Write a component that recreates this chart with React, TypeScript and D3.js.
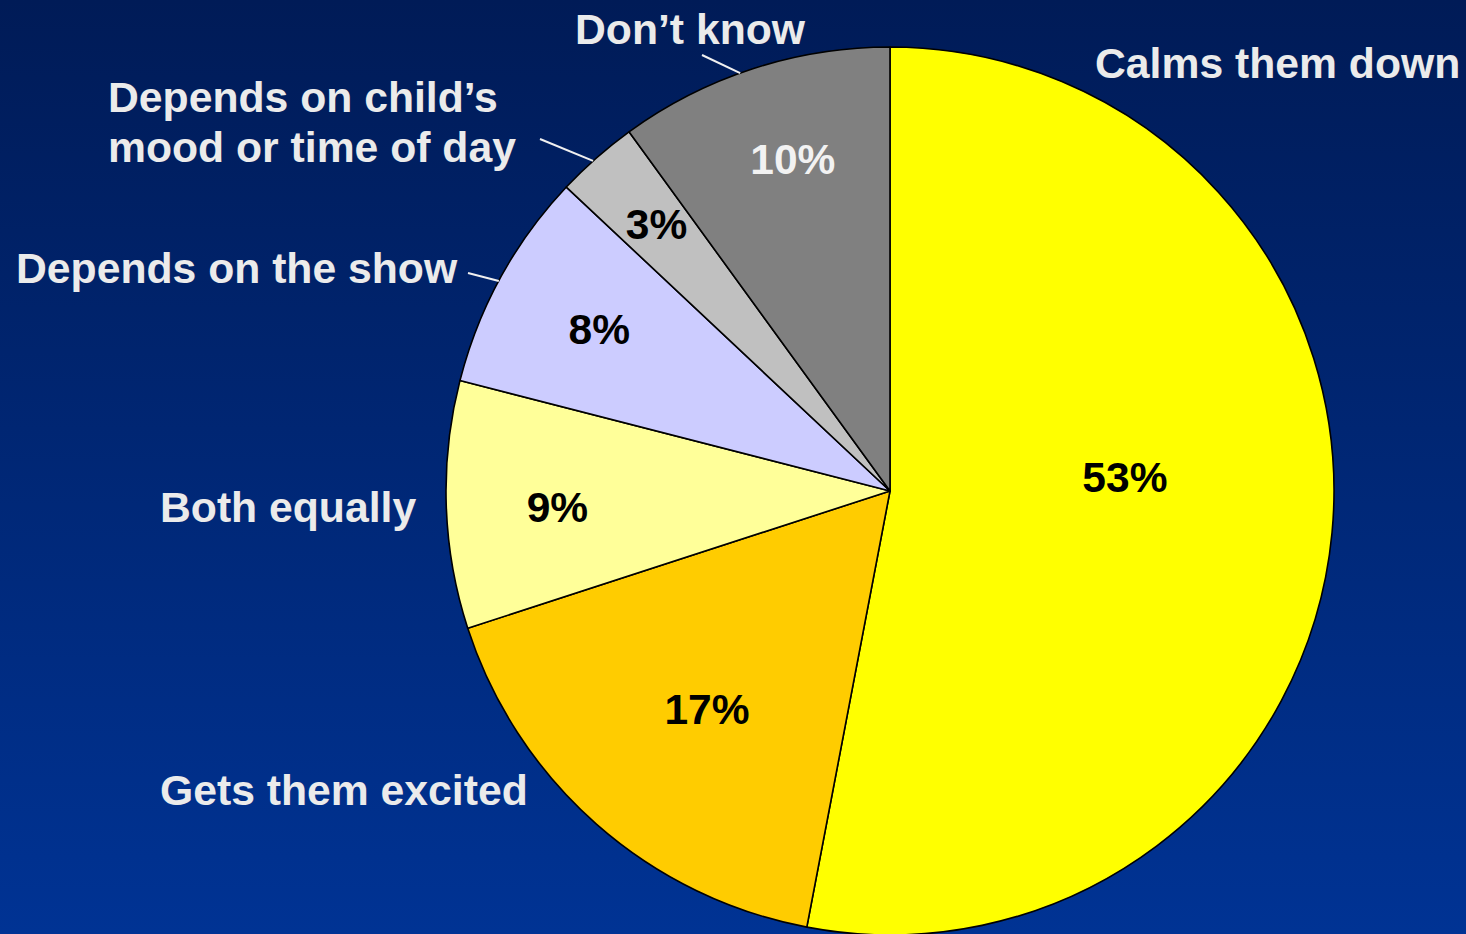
import React from "react";
import * as d3 from "d3";

const categories = [
  "Calms them down",
  "Gets them excited",
  "Both equally",
  "Depends on the show",
  "Depends on child\u2019s mood or time of day",
  "Don\u2019t know",
];
const values = [53, 17, 9, 8, 3, 10];
const percentLabels = ["53%", "17%", "9%", "8%", "3%", "10%"];

const colors = ["#FFFF00", "#FFCC00", "#FFFF99", "#CCCCFF", "#C0C0C0", "#808080"];
const pctColors = ["#000", "#000", "#000", "#000", "#000", "#F2F2F2"];

const W = 1466;
const H = 934;
const CX = 890;
const CY = 491;
const R = 444;

// label placement (radius fraction, angle offset in degrees)
const pctLayout = [
  [0.53, -8.8],
  [0.64, -1.3],
  [0.75, -0.9],
  [0.75, 0.4],
  [0.8, 0.3],
  [0.78, 1.7],
];

// outer category labels: lines of text, x, baseline, optional leader start
const outerLayout: { lines: string[]; x: number; y: number; leader?: [number, number] }[] = [
  { lines: ["Calms them down"], x: 1095, y: 78 },
  { lines: ["Gets them excited"], x: 160, y: 805 },
  { lines: ["Both equally"], x: 160, y: 522 },
  { lines: ["Depends on the show"], x: 16, y: 283, leader: [468, 273] },
  { lines: ["Depends on child\u2019s", "mood or time of day"], x: 108, y: 112, leader: [540, 139] },
  { lines: ["Don\u2019t know"], x: 575, y: 44, leader: [702, 55] },
];

export default function App() {
  const pie = d3
    .pie<number>()
    .sort(null)
    .value((d) => d)
    .startAngle(0)
    .endAngle(2 * Math.PI);
  const arcs = pie(values);
  const arc = d3.arc<d3.PieArcDatum<number>>().innerRadius(0).outerRadius(R);
  const font = "'Liberation Sans', Arial, Helvetica, sans-serif";

  return (
    <svg
      width={W}
      height={H}
      style={{ position: "fixed", left: 0, top: 0, display: "block" }}
      viewBox={`0 0 ${W} ${H}`}
    >
      <defs>
        <linearGradient id="bg" x1="0" y1="0" x2="0" y2="1">
          <stop offset="0" stopColor="#001B57" />
          <stop offset="1" stopColor="#003394" />
        </linearGradient>
      </defs>
      <rect x={0} y={0} width={W} height={H} fill="url(#bg)" />
      <g transform={`translate(${CX},${CY})`}>
        {arcs.map((a, i) => (
          <path
            key={categories[i]}
            d={arc(a) || ""}
            fill={colors[i]}
            stroke="#000"
            strokeWidth={1.6}
            strokeLinejoin="round"
          />
        ))}
        {arcs.map((a, i) => {
          const [f, off] = pctLayout[i];
          const mid = (a.startAngle + a.endAngle) / 2 + (off * Math.PI) / 180;
          const x = Math.sin(mid) * R * f;
          const y = -Math.cos(mid) * R * f;
          return (
            <text
              key={"p" + i}
              x={x}
              y={y}
              dy="0.36em"
              textAnchor="middle"
              fontFamily={font}
              fontWeight="bold"
              fontSize={42.5}
              fill={pctColors[i]}
            >
              {percentLabels[i]}
            </text>
          );
        })}
        {arcs.map((a, i) => {
          const L = outerLayout[i];
          if (!L.leader) return null;
          const mid = (a.startAngle + a.endAngle) / 2 - (i === 5 ? 0.03 : 0.01);
          const ex = Math.sin(mid) * R;
          const ey = -Math.cos(mid) * R;
          return (
            <line
              key={"l" + i}
              x1={L.leader[0] - CX}
              y1={L.leader[1] - CY}
              x2={ex}
              y2={ey}
              stroke="#F0F0F0"
              strokeWidth={2}
            />
          );
        })}
      </g>
      {outerLayout.map((L, i) => (
        <text
          key={"c" + i}
          x={L.x}
          y={L.y}
          fontFamily={font}
          fontWeight="bold"
          fontSize={42.7}
          fill="#EBEBEB"
        >
          {L.lines.map((ln, j) => (
            <tspan key={j} x={L.x} dy={j === 0 ? 0 : 50}>
              {ln}
            </tspan>
          ))}
        </text>
      ))}
    </svg>
  );
}
